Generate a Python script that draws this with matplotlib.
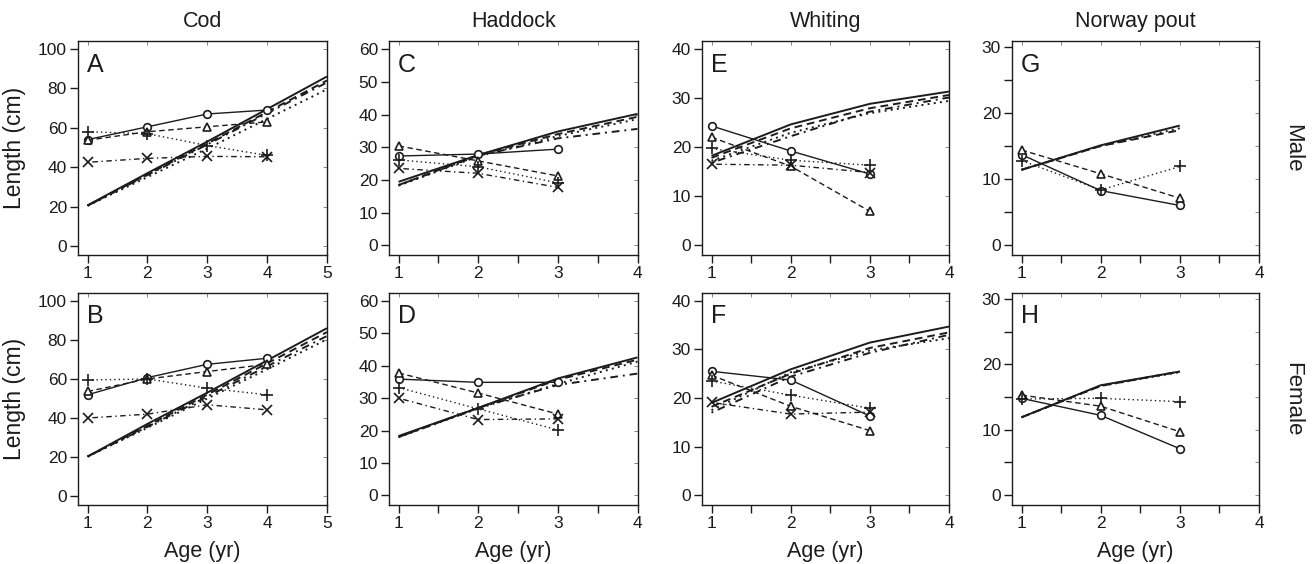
import matplotlib
matplotlib.use("Agg")
import matplotlib.pyplot as plt
import numpy as np

plt.rcParams['font.family'] = ['Liberation Sans', 'DejaVu Sans']

species = ['Cod', 'Haddock', 'Whiting', 'Norway pout']
sexes = ['Male', 'Female']
letters = [['A', 'C', 'E', 'G'], ['B', 'D', 'F', 'H']]

# observed mean length at age, rows: circle, triangle, plus, cross
cod_m_obs = [[54.0, 60.5, 67.0, 69.0], [53.7, 58.0, 60.5, 63.0],
             [58.0, 57.0, 51.0, 46.0], [42.5, 44.5, 45.5, 45.3]]
cod_f_obs = [[51.9, 60.7, 67.5, 70.6], [53.6, 60.0, 63.8, 67.5],
             [59.5, 60.0, 55.3, 51.9], [40.0, 42.0, 46.8, 44.2]]
had_m_obs = [[27.3, 27.9, 29.4], [30.4, 25.8, 21.2],
             [26.1, 24.0, 19.1], [23.5, 22.0, 17.7]]
had_f_obs = [[35.9, 34.9, 34.9], [37.8, 31.6, 25.1],
             [33.3, 26.7, 20.2], [30.0, 23.4, 23.6]]
whi_m_obs = [[24.3, 19.2, 14.5], [22.0, 16.1, 6.9],
             [19.7, 17.3, 16.3], [16.5, 16.3, 14.8]]
whi_f_obs = [[25.5, 23.7, 16.3], [24.7, 18.3, 13.3],
             [23.5, 20.6, 17.9], [19.1, 16.7, 17.1]]
nop_m_obs = [[13.7, 8.25, 6.0], [14.4, 10.8, 7.1], [12.8, 8.35, 11.9]]
nop_f_obs = [[14.8, 12.2, 7.1], [15.3, 13.6, 9.7], [14.7, 14.8, 14.3]]

# fitted growth curves, rows: solid, dashed, dotted, dot-dash
cod_m_fit = [[20.7, 37.0, 53.0, 69.5, 86.0], [20.5, 36.3, 52.0, 68.0, 84.0],
             [20.5, 35.0, 49.5, 64.5, 79.5], [20.5, 36.0, 51.5, 67.3, 83.0]]
cod_f_fit = [[20.3, 37.0, 53.0, 69.5, 86.0], [20.3, 36.0, 52.0, 68.0, 84.0],
             [20.3, 35.0, 50.0, 65.0, 80.3], [20.3, 35.5, 51.0, 66.5, 82.0]]
had_m_fit = [[19.4, 27.6, 34.8, 40.2], [18.4, 27.6, 34.0, 39.3],
             [18.2, 27.2, 33.4, 38.6], [18.4, 27.4, 32.7, 35.6]]
had_f_fit = [[18.3, 27.0, 36.1, 42.6], [18.0, 27.0, 35.7, 41.9],
             [18.0, 26.8, 34.4, 41.3], [18.0, 27.0, 34.1, 37.6]]
whi_m_fit = [[18.2, 24.6, 28.8, 31.3], [17.8, 23.8, 27.9, 30.6],
             [17.2, 22.9, 26.9, 29.4], [16.8, 22.2, 27.2, 30.1]]
whi_f_fit = [[19.0, 25.9, 31.4, 34.7], [18.2, 25.0, 30.3, 33.5],
             [17.5, 25.3, 29.8, 32.3], [17.0, 24.4, 29.3, 33.0]]
nop_m_fit = [[11.4, 15.1, 18.1], [11.4, 15.0, 17.4], [11.4, 15.0, 17.7]]
nop_f_fit = [[11.9, 16.8, 18.9], [11.9, 16.7, 18.9], [11.9, 16.7, 18.8]]

obs = [[cod_m_obs, had_m_obs, whi_m_obs, nop_m_obs],
       [cod_f_obs, had_f_obs, whi_f_obs, nop_f_obs]]
fit = [[cod_m_fit, had_m_fit, whi_m_fit, nop_m_fit],
       [cod_f_fit, had_f_fit, whi_f_fit, nop_f_fit]]

xmax = [5, 4, 4, 4]
ylims = [(-4.5, 104), (-3, 62.5), (-2, 41.6), (-1.5, 30.9)]
ystep = [20, 10, 10, 10]
yminor = [None, None, None, 5]
xminor = [None, 0.5, 0.5, 0.5]

ink = '#1c1c1c'
markers = ['o', '^', '+', 'x']
msizes = [5.5, 6, 8, 6.5]
styles = ['-', (0, (4, 2.5)), (0, (1, 2.2)), (0, (1, 2.5, 4, 2.5))]

fig = plt.figure(figsize=(13.12, 5.64), dpi=100)
W, H = 1312, 564
col_left = [78, 389, 702, 1012]
col_w = [249, 248.5, 247, 247]
row_top = [41, 293]
row_h = [214, 212]

for r in range(2):
    for c in range(4):
        ax = fig.add_axes([col_left[c] / W, 1 - (row_top[r] + row_h[r]) / H,
                           col_w[c] / W, row_h[r] / H])
        f = fit[r][c]
        o = obs[r][c]
        fa = np.arange(1, len(f[0]) + 1)
        for i, ys in enumerate(f):
            ax.plot(fa, ys, color=ink, lw=1.4, linestyle=styles[i],
                    solid_capstyle='butt')
        oa = np.arange(1, len(o[0]) + 1)
        for i, ys in enumerate(o):
            ax.plot(oa, ys, color=ink, lw=1.0, linestyle=styles[i],
                    marker=markers[i], ms=msizes[i], mfc='white',
                    mec=ink, mew=1.2)

        ax.set_xlim(1 - 0.04 * (xmax[c] - 1), xmax[c])
        ax.set_ylim(*ylims[c])
        ax.set_xticks(np.arange(1, xmax[c] + 1))
        if xminor[c]:
            ax.set_xticks(np.arange(1.5, xmax[c], 1.0), minor=True)
        ax.set_yticks(np.arange(0, ylims[c][1], ystep[c]))
        if yminor[c]:
            ax.set_yticks(np.arange(5, ylims[c][1], 10), minor=True)
        ax.tick_params(which='both', direction='out', length=6, width=1,
                       color=ink, labelcolor=ink, labelsize=12.5, pad=2)
        for s in ax.spines.values():
            s.set_color(ink)
            s.set_linewidth(1)

        # small inward ticks on the top and right edges
        top = ax.secondary_xaxis('top')
        top.set_xticks(ax.get_xticks(minor=False))
        top.set_xticks(ax.get_xticks(minor=True), minor=True)
        top.tick_params(which='both', direction='in', length=3, width=0.7,
                        color='#888888', labeltop=False)
        top.spines['top'].set_visible(False)
        right = ax.secondary_yaxis('right')
        right.set_yticks(ax.get_yticks(minor=False))
        right.set_yticks(ax.get_yticks(minor=True), minor=True)
        right.tick_params(which='both', direction='in', length=3, width=0.7,
                          color='#888888', labelright=False)
        right.spines['right'].set_visible(False)

        ax.text(0.036, 0.857, letters[r][c], transform=ax.transAxes,
                fontsize=18, color=ink, ha='left', va='baseline')
        if r == 0:
            ax.set_title(species[c], fontsize=15.5, color=ink, pad=10)
        else:
            fig.text((col_left[c] + col_w[c] / 2) / W, 1 - 552 / H, 'Age (yr)',
                     fontsize=15.5, color=ink, ha='center', va='center')
        if c == 0:
            fig.text(15 / W, 1 - (row_top[r] + row_h[r] / 2) / H, 'Length (cm)',
                     fontsize=16.5, color=ink, rotation=90,
                     ha='center', va='center')
        if c == 3:
            fig.text(1293 / W, 1 - (row_top[r] + row_h[r] / 2) / H, sexes[r],
                     fontsize=16, color=ink, rotation=270,
                     ha='center', va='center')

fig.savefig('out.png', dpi=100)
